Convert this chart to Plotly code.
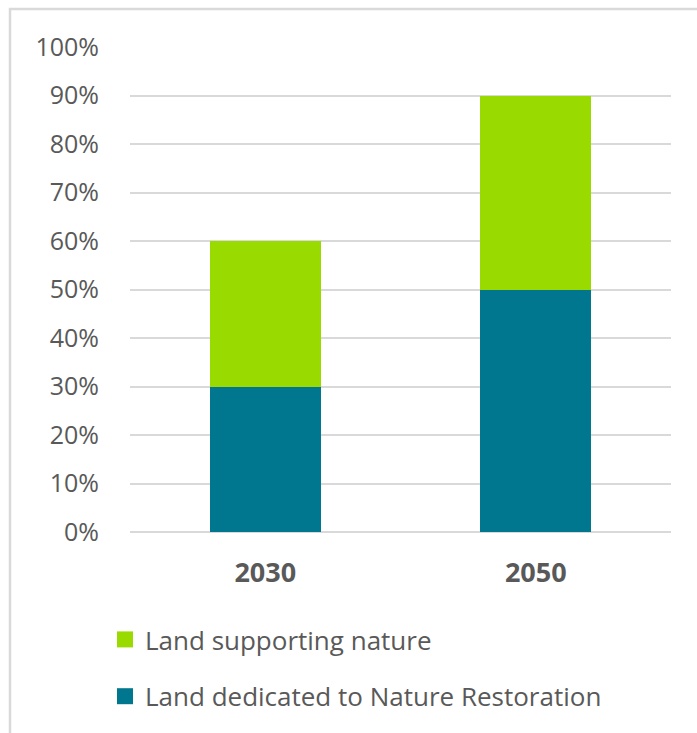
import plotly.graph_objects as go

categories = ["2030", "2050"]
restoration = [30, 50]
supporting = [30, 40]
tick_vals = [0, 10, 20, 30, 40, 50, 60, 70, 80, 90, 100]
tick_text = [f"{v}%" for v in tick_vals]
names = ["Land dedicated to Nature Restoration", "Land supporting nature"]
colors = ["#00778E", "#99DA00"]

W, H = 697, 733
ml, mr, mt, mb = 130, 26, 47, 201
pw, ph = W - ml - mr, H - mt - mb
FONT = "Open Sans, Liberation Sans, sans-serif"

fig = go.Figure()
for vals, name, col in zip([restoration, supporting], names, colors):
    fig.add_trace(go.Bar(x=categories, y=vals, name=name, showlegend=False,
                         marker=dict(color=col, line=dict(width=0))))
# legend entries with larger square keys
for rank, name, col in zip([2, 1], names, colors):
    fig.add_trace(go.Scatter(x=[None], y=[None], mode="markers", name=name,
                             legendgroup=name, legendrank=rank,
                             marker=dict(symbol="square", size=18, color=col)))

fig.update_layout(
    width=W, height=H,
    margin=dict(l=ml, r=mr, t=mt, b=mb),
    barmode="stack", bargap=0.59,
    plot_bgcolor="white", paper_bgcolor="white",
    font=dict(family=FONT, color="#595959", size=24),
    showlegend=True,
    legend=dict(orientation="v", traceorder="grouped", x=(105 - ml) / pw, xanchor="left",
                y=-(616 - mt - ph) / ph, yanchor="top", tracegroupgap=20, itemsizing="trace",
                font=dict(size=26, color="#595959", family=FONT), itemwidth=30),
    xaxis=dict(showgrid=False, showline=False, ticks="", ticklabelstandoff=22,
               tickfont=dict(size=27, color="#595959", family=FONT),
               tickprefix="<b>", ticksuffix="</b>"),
    yaxis=dict(range=[0, 100], tickvals=tick_vals, ticktext=tick_text, showgrid=True,
               gridcolor="#d9d9d9", gridwidth=1.5, zeroline=True, zerolinecolor="#d9d9d9", zerolinewidth=1.5,
               showline=False, ticks="", ticklabelstandoff=30, tickfont=dict(size=25, color="#595959", family=FONT)),
    shapes=[dict(type="rect", xref="paper", yref="paper",
                 x0=(10 - ml) / pw, x1=(W + 20 - ml) / pw,
                 y0=-(H + 20 - mt - ph) / ph, y1=1 + (mt - 9) / ph,
                 line=dict(color="#d9d9d9", width=2.5), fillcolor="rgba(0,0,0,0)", layer="below")],
)

fig.write_html("out.html")
